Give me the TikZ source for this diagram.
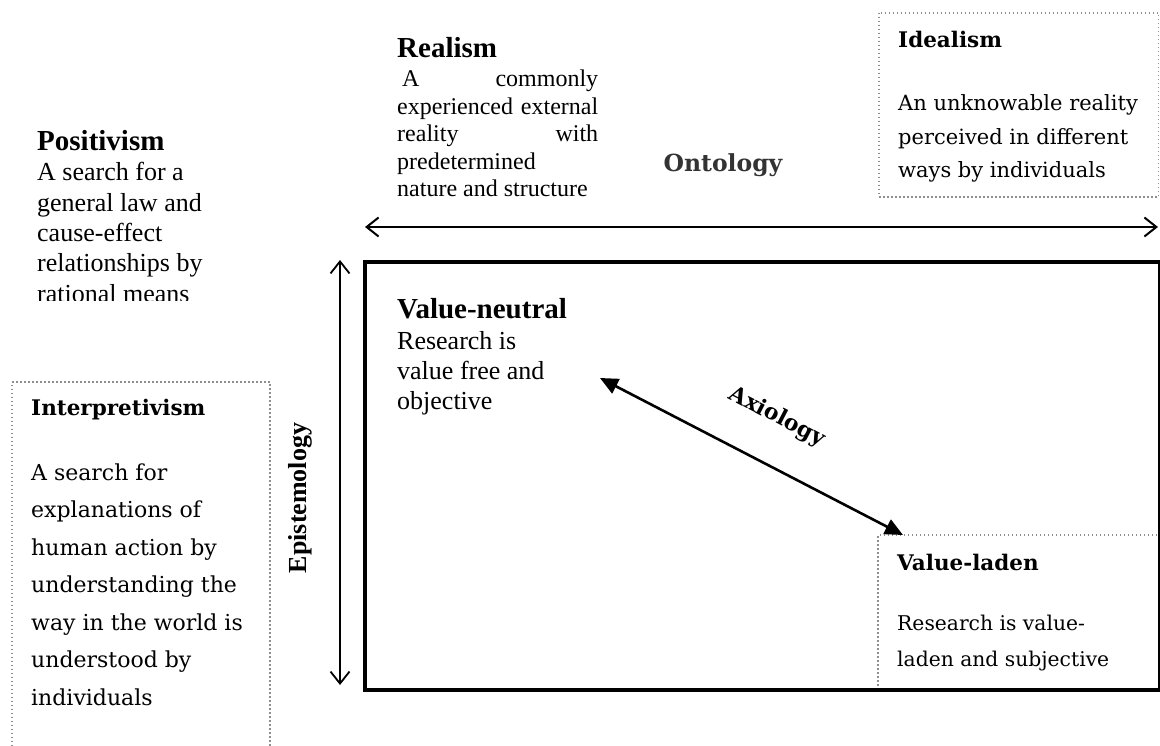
\documentclass[tikz,border=0pt]{standalone}
\usepackage{fontspec}
\setmainfont{Liberation Serif}
\newfontfamily\dvs{DejaVu Serif}
\usetikzlibrary{arrows.meta}
\definecolor{dotgray}{HTML}{8E8E8E}
\newcommand{\linesbox}[2]{\parbox[t]{#1}{\raggedright #2}}
\tikzset{
  ttl/.style={font=\fontsize{29}{34}\selectfont\bfseries, inner sep=0pt, anchor=base west},
  bodytxt/.style={font=\fontsize{26}{30.3}\selectfont, inner sep=0pt, anchor=base west},
  realtxt/.style={font=\fontsize{24}{27.5}\selectfont, inner sep=0pt, anchor=base west},
  dttl/.style={font=\dvs\fontsize{21.5}{26}\selectfont\bfseries, inner sep=0pt, anchor=base west},
  dtxt/.style={font=\dvs\fontsize{22}{37.5}\selectfont, inner sep=0pt, anchor=base west},
  dotline/.style={draw=dotgray, line width=1.5pt, dash pattern=on 1.5pt off 2.5pt},
  barbarrow/.style={line width=2pt, {Straight Barb[length=12pt,width=19pt]}-{Straight Barb[length=12pt,width=19pt]}},
  axarrow/.style={line width=2.6pt, {Triangle[length=18pt,width=16pt]}-{Triangle[length=18pt,width=16pt]}},
  axislabel/.style={font=\dvs\fontsize{23.5}{28}\selectfont\bfseries, inner sep=0pt, text=black!80}
}
\begin{document}
\begin{tikzpicture}[x=1pt,y=-1pt]
\useasboundingbox (0,0) rectangle (1160,746);
\fill[white] (0,0) rectangle (1160,746);

% dotted boxes
\path[dotline] (879,13) rectangle (1158.5,197);
\path[dotline] (12,746) -- (12,382) -- (270,382) -- (270,746);
\path[dotline] (1157,535) -- (878,535) -- (878,687);

% main box
\node[draw, line width=4pt, minimum width=795pt, minimum height=428pt, inner sep=0pt, anchor=north west] (main) at (363,260) {};

% Positivism (clipped)
\begin{scope}
\clip (0,0) rectangle (360,300.5);
\node[ttl] (postitle) at (37,151) {Positivism};
\node[bodytxt] (posbody) at (37,181) {\linesbox{300pt}{A search for a\\general law and\\cause-effect\\relationships by\\rational means}};
\end{scope}

% Realism
\node[ttl] (realtitle) at (397,58) {Realism};
\node[realtxt] (realbody) at (397,87) {\linesbox{201pt}{\hspace*{5pt}A\hfill commonly\\experienced\hfill external\\reality\hfill with\\predetermined\\nature and structure}};

% Idealism
\node[dttl] (idtitle) at (898,48) {Idealism};
\node[dtxt, font=\dvs\fontsize{21}{33.5}\selectfont] (idbody) at (898,111) {\linesbox{260pt}{An unknowable reality\\perceived in different\\ways by individuals}};

% Ontology
\node[axislabel, anchor=base] (onto) at (723,172) {Ontology};
\coordinate (ontoL) at (365,227);
\coordinate (ontoR) at (1158,227);
\draw[barbarrow] (ontoL) -- (ontoR);

% Epistemology
\coordinate (epiT) at (340,260);
\coordinate (epiB) at (340,685);
\draw[barbarrow, line width=1.8pt] (epiT) -- (epiB);
\node[font=\fontsize{26}{30}\selectfont\bfseries, rotate=90, inner sep=0pt] (epi) at (300,498) {Epistemology};

% Interpretivism
\node[dttl] (inttitle) at (31,415) {Interpretivism};
\node[dtxt] (intbody) at (31,480) {\linesbox{235pt}{A search for\\explanations of\\human action by\\understanding the\\way in the world is\\understood by\\individuals}};

% Value-neutral
\node[ttl] (vntitle) at (397,319) {Value-neutral};
\node[bodytxt] (vnbody) at (397,349) {\linesbox{200pt}{Research is\\value free and\\objective}};

% Value-laden
\node[dttl] (vltitle) at (897,570) {Value-laden};
\node[dtxt, font=\dvs\fontsize{20.3}{36}\selectfont] (vlbody) at (897,630) {\linesbox{250pt}{Research is value-\\laden and subjective}};

% Axiology
\coordinate (axA) at (600,378);
\coordinate (axB) at (903,535);
\draw[axarrow] (axA) -- (axB);
\node[axislabel, font=\dvs\fontsize{22}{26}\selectfont\bfseries, text=black, rotate=-27.4] (axio) at (777,417) {Axiology};
\end{tikzpicture}
\end{document}
